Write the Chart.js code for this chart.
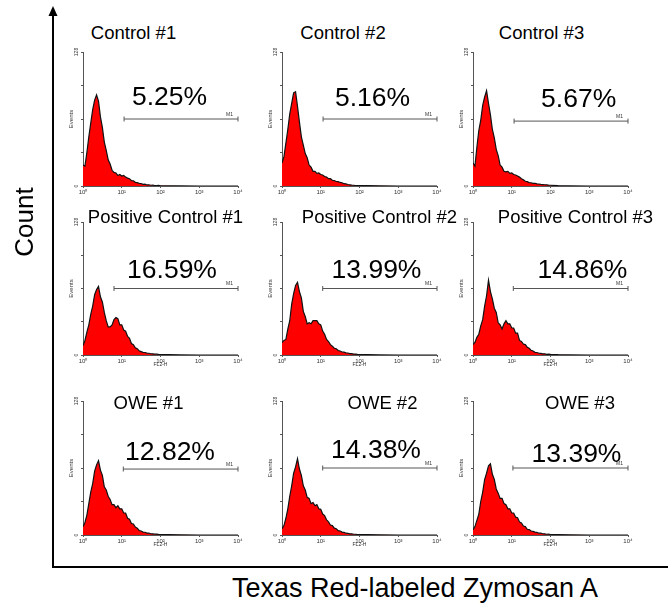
<!DOCTYPE html>
<html>
<head>
<meta charset="utf-8">
<script src="https://cdn.jsdelivr.net/npm/chart.js@4.4.1/dist/chart.umd.min.js"></script>
<style>
  html, body { margin: 0; padding: 0; background: #fff; }
  #fig { position: relative; width: 668px; height: 613px; overflow: hidden; font-family: 'Liberation Sans', Arial, sans-serif; color: #000; }
  #fig canvas { position: absolute; }
  #fig svg { position: absolute; left: 0; top: 0; }
  .lbl { position: absolute; white-space: nowrap; line-height: 1; transform: translateX(-50%); }
</style>
</head>
<body>
<div id="fig">
  <svg width="668" height="613">
    <line x1="53" y1="14" x2="53" y2="567" stroke="#000" stroke-width="2"/>
    <polygon points="53,6 48.5,16 57.5,16" fill="#000"/>
    <line x1="52" y1="567" x2="668" y2="567" stroke="#000" stroke-width="2"/>
  </svg>
</div>
<script>
// FL2-H position in decades (10^0 .. 10^4)
const DECADES = [0, 0.05, 0.1, 0.15, 0.2, 0.25, 0.3, 0.35, 0.4, 0.45, 0.5, 0.55, 0.6, 0.65, 0.7, 0.75, 0.8, 0.85, 0.9, 0.95,
  1, 1.05, 1.1, 1.15, 1.2, 1.25, 1.3, 1.35, 1.4, 1.45, 1.5, 1.55, 1.6, 1.65, 1.7, 1.75, 1.8, 1.85, 1.9, 1.95, 2, 2.2, 2.5, 3, 4];
const TICK_LABELS = ['10\u2070', '10\u00b9', '10\u00b2', '10\u00b3', '10\u2074'];

const TITLES = ['Control #1', 'Control #2', 'Control #3',
  'Positive Control #1', 'Positive Control #2', 'Positive Control #3',
  'OWE #1', 'OWE #2', 'OWE #3'];
const PERCENTS = ['5.25%', '5.16%', '5.67%', '16.59%', '13.99%', '14.86%', '12.82%', '14.38%', '13.39%'];
const M1_START = [1.06, 1.06, 1.06, 0.8, 1.05, 1.04, 1.04, 1.05, 1.03];
const M1_LEVEL = [64, 64, 62, 64, 64, 64, 63, 64, 64];

// event counts per channel
const CONTROL_1 = [20, 19, 32, 47, 60, 73, 82, 87, 81, 66, 56, 42, 34, 25, 21, 15, 13, 12.5, 10, 11,
  9.5, 10, 8.5, 7.5, 7, 5, 5, 3.5, 3.2, 2.5, 2.4, 1.6, 1.8, 1, 1.2, 0.7, 0.8, 0.5, 0.4, 0.5, 0.2, 0.2, 0.1, 0, 0];
const CONTROL_2 = [22, 28, 41, 54, 69, 79, 89, 90, 76, 61, 47, 39, 31, 27, 20, 18, 14, 14, 12, 12.5,
  11, 10.5, 9, 8.5, 7, 7, 5.5, 5.2, 4.3, 4.2, 3.4, 3.1, 2.2, 2, 1.4, 1.1, 0.8, 0.7, 0.5, 0.5, 0.3, 0.4, 0.2, 0, 0];
const CONTROL_3 = [22, 19, 37, 53, 63, 77, 85, 91, 79, 68, 54, 46, 35, 29, 20, 18, 14, 13.5, 14, 12,
  12.5, 11, 10.5, 9.5, 8.5, 7, 6, 4.5, 4.2, 3.2, 3.1, 2.5, 2.6, 2, 1.9, 1.6, 1.4, 1.2, 1.1, 0.8, 0.7, 0.3, 0.1, 0, 0];
const POSITIVE_1 = [9, 14, 22, 29, 39, 47, 58, 63, 66, 56, 51, 41, 33, 27, 27, 29, 34, 36, 35, 29,
  29, 24, 23, 18, 16, 11, 10, 7, 6, 4, 3.3, 2.6, 2.4, 1.8, 1.7, 1.2, 1.1, 0.8, 0.8, 0.6, 0.5, 0.3, 0.1, 0, 0];
const POSITIVE_2 = [12, 14, 15, 25, 33, 49, 59, 67, 70, 61, 55, 42, 37, 30, 31, 30, 33, 33, 33, 30,
  29, 23, 20, 15, 13, 10, 8.5, 6.5, 6, 4.3, 3.9, 2.9, 2.7, 2.1, 1.9, 1.4, 1.3, 0.9, 0.9, 0.6, 0.5, 0.3, 0.1, 0, 0];
const POSITIVE_3 = [10, 12, 17, 20, 28, 34, 47, 57, 72, 61, 54, 45, 41, 31, 29, 25, 30, 33, 30, 30,
  26, 26, 21, 21, 14, 13, 10.5, 10, 7.5, 6.5, 4.5, 3.8, 2.6, 2.4, 1.7, 1.5, 1.1, 1.1, 0.7, 0.8, 0.6, 0.3, 0.1, 0, 0];
const OWE_1 = [8, 12, 19, 30, 41, 49, 61, 67, 71, 62, 57, 46, 43, 37, 34, 29, 29, 26, 28, 25,
  25, 21, 21, 16, 15, 11, 10.5, 7.5, 6.5, 4.3, 3.8, 2.8, 2.6, 1.8, 1.7, 1.2, 1.1, 0.8, 0.9, 0.6, 0.5, 0.3, 0.2, 0, 0];
const OWE_2 = [6, 9, 16, 25, 37, 47, 59, 65, 73, 63, 57, 47, 43, 36, 35, 30, 31, 28, 29, 25,
  24.5, 20, 18.5, 14.5, 12.5, 9.5, 9, 6.5, 6, 4.2, 3.8, 2.8, 2.5, 1.7, 1.6, 1.1, 1.1, 0.7, 0.7, 0.4, 0.4, 0.3, 0.2, 0, 0];
const OWE_3 = [5, 8, 14, 20, 32, 41, 53, 59, 66, 68, 58, 53, 44, 40, 35, 35, 30, 29, 25, 25,
  21, 21, 17, 16.5, 12.5, 11.5, 8.5, 8, 5.5, 5.2, 3.8, 3.4, 2.8, 2.5, 1.7, 1.7, 1.2, 1.1, 0.7, 0.8, 0.5, 0.3, 0.2, 0, 0];
const COUNTS = [CONTROL_1, CONTROL_2, CONTROL_3, POSITIVE_1, POSITIVE_2, POSITIVE_3, OWE_1, OWE_2, OWE_3];

// layout (pixels)
const COL_LEFT = [83, 282, 473];
const ROW_TOP = [52, 222, 401];
const ROW_H = [134, 133, 134];
const PLOT_W = 155;
const PAD_L = 24, PAD_T = 6, PAD_R = 8, PAD_B = 16;
const TITLE_POS = [[133.5, 40], [343, 40], [541.5, 40], [165.5, 224], [379.5, 224], [575.5, 224], [148.5, 410], [382.5, 410], [580, 410]];
const PCT_POS = [[169.5, 105], [372.5, 106], [578.7, 107], [172, 278], [376.5, 278], [582.5, 278], [170, 460], [376, 458], [576.5, 462]];

const fig = document.getElementById('fig');
const FONT = "'Liberation Sans', Arial, sans-serif";

function addLabel(text, cx, baseline, size) {
  const el = document.createElement('div');
  el.className = 'lbl';
  el.textContent = text;
  el.style.fontSize = size + 'px';
  el.style.left = cx + 'px';
  el.style.top = (baseline - 0.8465 * size) + 'px';
  fig.appendChild(el);
  return el;
}

const m1Label = {
  id: 'm1Label',
  afterDatasetsDraw(chart) {
    const pts = chart.getDatasetMeta(1).data;
    const end = pts[pts.length - 1];
    const ctx = chart.ctx;
    ctx.save();
    ctx.font = '5px ' + FONT;
    ctx.fillStyle = '#333';
    ctx.textAlign = 'right';
    ctx.textBaseline = 'bottom';
    ctx.fillText('M1', end.x - 5, end.y - 2);
    ctx.restore();
  },
};

function drawPanel(i) {
  const row = Math.floor(i / 3);
  const col = i % 3;
  const h = ROW_H[row];
  const canvas = document.createElement('canvas');
  canvas.width = PAD_L + PLOT_W + PAD_R;
  canvas.height = PAD_T + h + PAD_B;
  canvas.style.left = COL_LEFT[col] - PAD_L + 'px';
  canvas.style.top = ROW_TOP[row] - PAD_T + 'px';
  fig.appendChild(canvas);

  const counts = COUNTS[i];
  new Chart(canvas.getContext('2d'), {
    type: 'line',
    data: {
      datasets: [
        {
          data: DECADES.map((d, k) => ({ x: d, y: counts[k] })),
          borderColor: '#111',
          borderWidth: 1.2,
          backgroundColor: '#ff0000',
          fill: 'origin',
          pointRadius: 0,
          tension: 0,
        },
        {
          data: [{ x: M1_START[i], y: M1_LEVEL[i] }, { x: 4, y: M1_LEVEL[i] }],
          borderColor: '#555',
          borderWidth: 1,
          pointStyle: 'line',
          pointRadius: 2.5,
          rotation: 90,
          pointBorderColor: '#555',
          pointBorderWidth: 1,
          fill: false,
          clip: false,
        },
      ],
    },
    options: {
      responsive: false,
      animation: false,
      events: [],
      layout: { padding: { top: PAD_T, right: PAD_R, left: 0, bottom: 0 } },
      plugins: { legend: { display: false }, tooltip: { enabled: false } },
      scales: {
        x: {
          type: 'linear',
          min: 0,
          max: 4,
          afterFit: (s) => { s.height = PAD_B; },
          ticks: { stepSize: 1, callback: (v) => TICK_LABELS[v], font: { size: 6, family: FONT }, color: '#333', padding: 1, maxRotation: 0, autoSkip: false },
          grid: { drawOnChartArea: false, tickLength: 2, color: '#555' },
          border: { color: '#555', width: 1 },
          title: { display: row > 0, text: 'FL2-H', font: { size: 5, family: FONT }, color: '#333', padding: { top: 0, bottom: 3 } },
        },
        y: {
          min: 0,
          max: 128,
          afterFit: (s) => { s.width = PAD_L; },
          ticks: { stepSize: 32, callback: (v) => (v === 0 || v === 128 ? String(v) : ''), font: { size: 5, family: FONT }, color: '#333', padding: 0, minRotation: 90, maxRotation: 90, crossAlign: 'center' },
          grid: { drawOnChartArea: false, tickLength: 2, color: '#555' },
          border: { color: '#555', width: 1 },
          title: { display: true, text: 'Events', font: { size: 6, family: FONT }, color: '#333', padding: { top: 9, bottom: 0 } },
        },
      },
    },
    plugins: [m1Label],
  });

  addLabel(TITLES[i], TITLE_POS[i][0], TITLE_POS[i][1], 18.5);
  addLabel(PERCENTS[i], PCT_POS[i][0], PCT_POS[i][1], 26.5);
}

for (let i = 0; i < 9; i++) drawPanel(i);

const count = addLabel('Count', 0, 0, 26);
count.style.left = '24px';
count.style.top = '222px';
count.style.transform = 'translate(-50%, -50%) rotate(-90deg)';
addLabel('Texas Red-labeled Zymosan A', 415, 598, 27);
</script>
</body>
</html>
